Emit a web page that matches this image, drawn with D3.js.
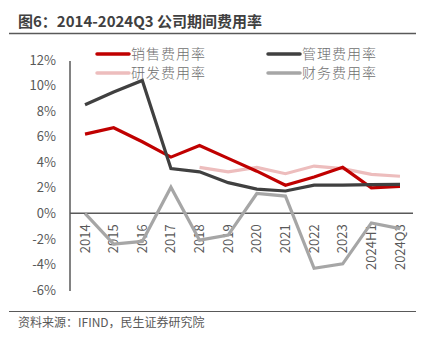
<!DOCTYPE html>
<html><head><meta charset="utf-8">
<script src="https://cdn.jsdelivr.net/npm/d3@7"></script>
<style>body{margin:0;background:#fff;} text{font-family:"Noto Sans CJK SC","Noto Sans",sans-serif;}</style>
</head><body>
<svg id="c" width="431" height="341"></svg>
<script>
const categories = ["2014","2015","2016","2017","2018","2019","2020","2021","2022","2023","2024H1","2024Q3"];
const salesRate = [6.2,6.7,5.6,4.4,5.3,4.3,3.3,2.2,2.85,3.6,2.0,2.1];
const mgmtRate = [8.5,9.5,10.4,3.5,3.25,2.4,1.9,1.75,2.2,2.2,2.25,2.27];
const rdRate = [null,null,null,null,3.6,3.25,3.6,3.1,3.7,3.5,3.05,2.9];
const finRate = [0,-2.4,-2.2,2.05,-2.1,-1.7,1.55,1.35,-4.3,-3.95,-0.75,-1.2];
const yTicks = [12,10,8,6,4,2,0,-2,-4,-6];
const seriesNames = ["销售费用率","管理费用率","研发费用率","财务费用率"];
const colors = ["#C00000","#404040","#EDBDBD","#A6A6A6"];

const svg = d3.select("#c");
const x = d3.scaleBand().domain(categories).range([70.7,414.3]);
const y = d3.scaleLinear().domain([-6,12]).range([290,60]);
const cx = d => x(d) + x.bandwidth()/2;

// title
svg.append("text").attr("x",18).attr("y",27).attr("font-size",15).attr("font-weight","bold").attr("fill","#404040").text("图6：2014-2024Q3 公司期间费用率");
svg.append("line").attr("x1",9).attr("x2",416).attr("y1",33.5).attr("y2",33.5).attr("stroke","#595959").attr("stroke-width",1.5);

// y axis
const yAxis = d3.axisLeft(y).tickValues(yTicks).tickSize(0).tickPadding(0).tickFormat(d=>d+"%");
const ga = svg.append("g").attr("transform","translate(56,0)").call(yAxis);
ga.select(".domain").remove();
ga.selectAll("text").attr("font-size",13).attr("fill","#595959").attr("font-family","'Noto Sans','DejaVu Sans',sans-serif");
svg.append("line").attr("x1",70).attr("x2",70).attr("y1",61).attr("y2",291).attr("stroke","#595959").attr("stroke-width",1.5);
svg.append("line").attr("x1",70).attr("x2",413).attr("y1",y(0)).attr("y2",y(0)).attr("stroke","#595959").attr("stroke-width",1.5);

// x labels
const xAxis = d3.axisBottom(x).tickSize(0).tickPadding(0);
const gx = svg.append("g").attr("transform",`translate(0,${y(0)})`).call(xAxis);
gx.select(".domain").remove();
gx.selectAll("text").attr("font-size",13).attr("fill","#595959").attr("font-family","'Noto Sans','DejaVu Sans',sans-serif")
  .attr("text-anchor","end").attr("dy","0.35em").attr("transform","translate(0,11) rotate(-90)").attr("y",0).attr("x",0);

// lines
const line = d3.line().defined(d=>d.v!=null).x(d=>cx(d.c)).y(d=>y(d.v));
const data = [rdRate, finRate, salesRate, mgmtRate];
const cols = [colors[2],colors[3],colors[0],colors[1]];
data.forEach((arr,i)=>{
  svg.append("path").datum(categories.map((c,j)=>({c,v:arr[j]})))
    .attr("d",line).attr("fill","none").attr("stroke",cols[i]).attr("stroke-width",3.2).attr("stroke-linejoin","miter");
});

// legend
const leg = [{n:seriesNames[0],c:colors[0],x:97,y:54},{n:seriesNames[1],c:colors[1],x:268,y:54},{n:seriesNames[2],c:colors[2],x:97,y:73},{n:seriesNames[3],c:colors[3],x:268,y:73}];
leg.forEach(l=>{
  svg.append("line").attr("x1",l.x).attr("x2",l.x+32).attr("y1",l.y).attr("y2",l.y).attr("stroke",l.c).attr("stroke-width",3.5).attr("stroke-linecap","round");
  svg.append("text").attr("x",l.x+34).attr("y",l.y).attr("dy","0.36em").attr("font-size",14).attr("fill","#6f6f6f").attr("font-family","'Noto Sans CJK SC'").attr("font-weight",300).attr("letter-spacing",1).text(l.n);
});

// footer
svg.append("line").attr("x1",9).attr("x2",416).attr("y1",311.5).attr("y2",311.5).attr("stroke","#595959").attr("stroke-width",1);
svg.append("text").attr("x",18).attr("y",323).attr("dy","0.35em").attr("font-size",12).attr("fill","#595959").text("资料来源：IFIND，民生证券研究院");
</script>
</body></html>
